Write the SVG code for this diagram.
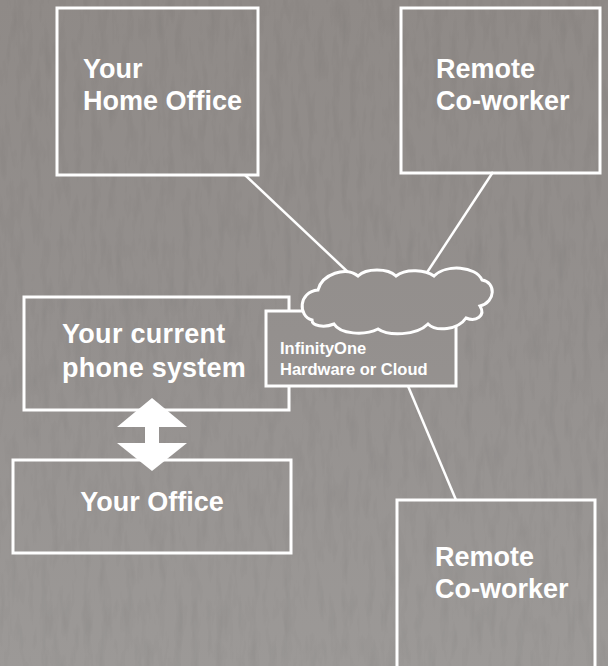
<svg xmlns="http://www.w3.org/2000/svg" width="608" height="666" viewBox="0 0 608 666">
<defs>
<linearGradient id="bg" gradientUnits="userSpaceOnUse" x1="0" y1="0" x2="0" y2="666">
<stop offset="0" stop-color="#8f8a87"/>
<stop offset="0.5" stop-color="#94908e"/>
<stop offset="1" stop-color="#9c9997"/>
</linearGradient>
<filter id="tex" x="0" y="0" width="100%" height="100%">
<feTurbulence type="fractalNoise" baseFrequency="0.12 0.025" numOctaves="3" seed="4" result="n"/>
<feColorMatrix in="n" type="matrix" values="0 0 0 0 0  0 0 0 0 0  0 0 0 0 0  0 0 0 0.9 -0.4"/>
</filter>
<style>
.box{fill:none;stroke:#ffffff;stroke-width:3}
.boxf{fill:url(#bg);stroke:#ffffff;stroke-width:3}
.lbl{font-family:"Liberation Sans",Arial,sans-serif;font-weight:bold;font-size:27px;fill:#ffffff}
.sm{font-size:16.5px}
.conn{stroke:#ffffff;stroke-width:2.5;fill:none}
</style>
</defs>
<rect width="608" height="666" fill="url(#bg)"/>
<rect width="608" height="666" filter="url(#tex)" opacity="0.1"/>
<g id="connectors">
<line class="conn" x1="245" y1="175" x2="350" y2="274"/>
<line class="conn" x1="493" y1="172" x2="426" y2="274"/>
<line class="conn" x1="408" y1="386" x2="456" y2="500"/>
</g>
<g id="home-office">
<rect class="box" x="57" y="8" width="201" height="167"/>
<text class="lbl" x="83" y="78">Your</text>
<text class="lbl" x="83" y="110">Home Office</text>
</g>
<g id="remote-top">
<rect class="box" x="401" y="8" width="199" height="165"/>
<text class="lbl" x="436" y="78">Remote</text>
<text class="lbl" x="436" y="110">Co-worker</text>
</g>
<g id="phone-system">
<rect class="box" x="24" y="297" width="265" height="113"/>
<text class="lbl" x="62" y="343" letter-spacing="0.3">Your current</text>
<text class="lbl" x="62" y="377" letter-spacing="0.2">phone system</text>
</g>
<g id="your-office">
<rect class="box" x="13" y="460" width="278" height="93"/>
<text class="lbl" x="152" y="511" text-anchor="middle">Your Office</text>
</g>
<g id="double-arrow">
<polygon fill="#ffffff" points="152,398 187,427 159,427 159,443 187,443 152,471 117,443 145,443 145,427 117,427"/>
</g>
<g id="infinityone">
<rect class="boxf" x="266" y="311" width="190" height="75"/>
<path class="boxf" d="M312,320 C298,316 298,292 318,290 C322,274 346,266 358,276 C366,268 388,268 396,276 C406,268 426,270 434,276 C446,264 476,266 482,280 C496,282 496,302 480,306 C486,316 476,322 466,318 C458,330 436,332 428,324 C416,336 388,336 378,329 C364,336 340,334 334,324 C324,328 312,326 312,320 Z"/>
<text class="lbl sm" x="280" y="354">InfinityOne</text>
<text class="lbl sm" x="280" y="375">Hardware or Cloud</text>
</g>
<g id="remote-bottom">
<rect class="box" x="397" y="500" width="198" height="180"/>
<text class="lbl" x="435" y="566">Remote</text>
<text class="lbl" x="435" y="598">Co-worker</text>
</g>
</svg>
